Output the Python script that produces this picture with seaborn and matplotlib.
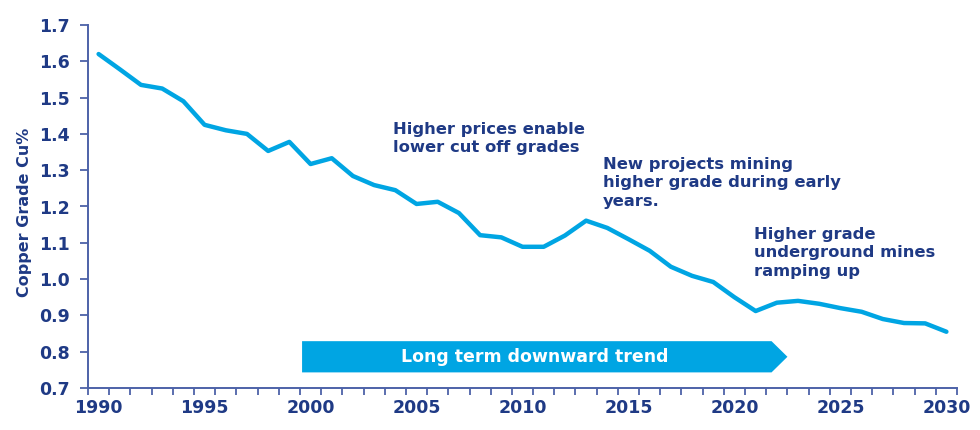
import numpy as np
import pandas as pd
import matplotlib
matplotlib.use("Agg")
import matplotlib.pyplot as plt
from matplotlib.ticker import FixedLocator
import seaborn as sns

# Copper head grade
years = list(range(1990, 2031))
grade = [1.62, 1.578, 1.535, 1.525, 1.49, 1.425, 1.41, 1.40, 1.353, 1.378,
         1.317, 1.333, 1.284, 1.259, 1.245, 1.207, 1.213, 1.182, 1.121, 1.115,
         1.089, 1.089, 1.12, 1.161, 1.141, 1.11, 1.078, 1.034, 1.009, 0.992,
         0.95, 0.912, 0.935, 0.94, 0.932, 0.92, 0.91, 0.89, 0.879, 0.878,
         0.855]
year_ticks = [1990, 1995, 2000, 2005, 2010, 2015, 2020, 2025, 2030]
grade_ticks = [0.7, 0.8, 0.9, 1.0, 1.1, 1.2, 1.3, 1.4, 1.5, 1.6, 1.7]

notes = ["Higher prices enable\nlower cut off grades",
         "New projects mining\nhigher grade during early\nyears.",
         "Higher grade\nunderground mines\nramping up"]
note_pos = [(2003.9, 1.434), (2013.8, 1.337), (2020.9, 1.144)]

trend_label = "Long term downward trend"
trend_start, trend_end, trend_level = 1999.6, 2022.5, 0.786

df = pd.DataFrame({"year": years, "grade": grade})

navy = "#1f3a85"
axis_col = "#4d62a8"
cyan = "#00a5e3"

sns.set_theme(style="white")
plt.rcParams["font.family"] = ["DejaVu Sans"]

fig = plt.figure(figsize=(9.8, 4.3), dpi=100)
ax = fig.add_axes([88 / 980, 1 - 388 / 430, (957 - 88) / 980, (388 - 25) / 430])

sns.lineplot(data=df, x="year", y="grade", color=cyan, linewidth=3.2, ax=ax)

# trend arrow (pentagon: head as tall as body)
ax.arrow(trend_start, trend_level, trend_end - trend_start, 0,
         width=0.086, head_width=0.086, head_length=0.75,
         length_includes_head=True, color=cyan, lw=0)
ax.text(2010.6, trend_level, trend_label, color="white",
        fontsize=12.5, fontweight="bold", ha="center", va="center")

for txt, (x, y) in zip(notes, note_pos):
    ax.text(x, y, txt, color=navy, fontsize=11.8, fontweight="bold",
            ha="left", va="top", linespacing=1.3)

ax.set_xlim(1989.5, 2030.5)
ax.set_ylim(0.7, 1.7)
ax.set_xticks(year_ticks)
ax.xaxis.set_minor_locator(FixedLocator(np.arange(1989.5, 2031, 1)))
ax.set_yticks(grade_ticks)
ax.set_yticklabels([f"{v:.1f}" for v in grade_ticks])

ax.tick_params(axis="x", which="major", length=0, pad=8, labelsize=12.5,
               labelcolor=navy)
ax.tick_params(axis="x", which="minor", bottom=True, length=5, width=1.3,
               color=axis_col, direction="out")
ax.tick_params(axis="y", left=True, length=6, width=1.3, color=axis_col,
               pad=7, labelsize=12.5, labelcolor=navy, direction="out")
for lbl in ax.get_xticklabels() + ax.get_yticklabels():
    lbl.set_fontweight("bold")

ax.set_xlabel("")
ax.set_ylabel("Copper Grade Cu%", color=navy, fontsize=11.5, fontweight="bold")
ax.yaxis.set_label_coords(-0.065, 0.484)

sns.despine(ax=ax)
for side in ["left", "bottom"]:
    ax.spines[side].set_color(axis_col)
    ax.spines[side].set_linewidth(1.4)

fig.savefig("out.png", dpi=100)
